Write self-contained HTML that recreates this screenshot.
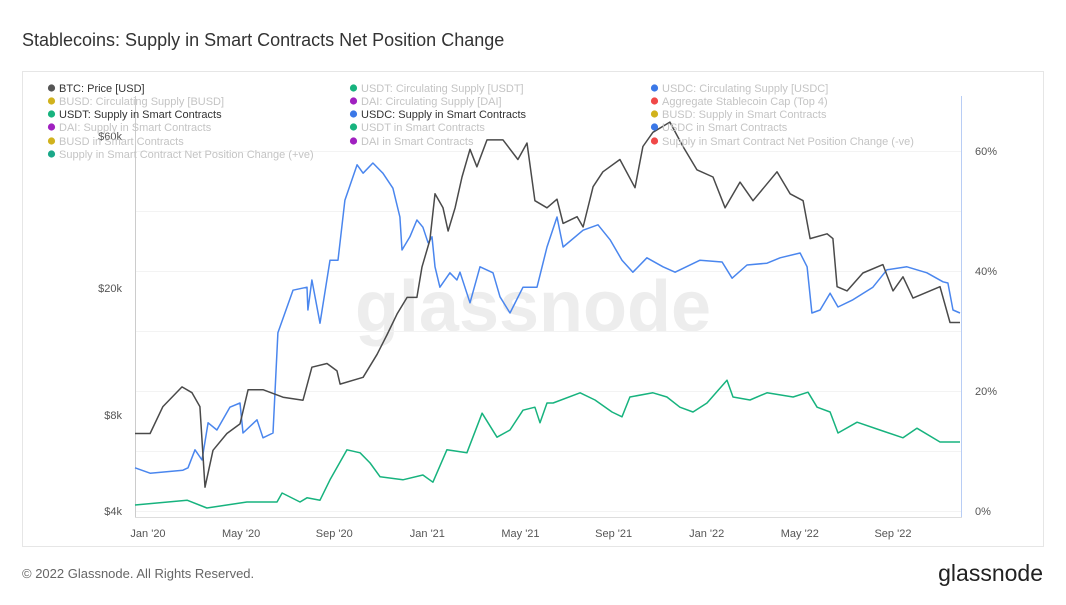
<!DOCTYPE html>
<html><head><meta charset="utf-8">
<style>
body{margin:0;background:#fff;width:1066px;height:600px;overflow:hidden;font-family:"Liberation Sans",sans-serif;}
</style></head>
<body>
<svg id="chart" width="1066" height="600" xmlns="http://www.w3.org/2000/svg">
<text x="22" y="46" font-size="18" fill="#333">Stablecoins: Supply in Smart Contracts Net Position Change</text>
<rect x="22.5" y="71.5" width="1021" height="475" fill="none" stroke="#e6e6e6"/>
<text x="533" y="331" font-size="72" font-weight="bold" fill="#ededed" text-anchor="middle">glassnode</text>
<g id="grid"></g>
<line x1="135.5" y1="96" x2="135.5" y2="517" stroke="#ccc"/>
<line x1="961.5" y1="96" x2="961.5" y2="517" stroke="#b8cdf5"/>
<line x1="135" y1="517.5" x2="962" y2="517.5" stroke="#ddd"/>
<g id="axes" font-size="11" fill="#555"></g>
<g id="series"></g>
<g id="legend" font-size="11"></g>
<text x="22" y="578" font-size="13" fill="#666">© 2022 Glassnode. All Rights Reserved.</text>
<text x="1043" y="581" font-size="23" fill="#222" text-anchor="end">glassnode</text>
</svg>
<script>
const xTickLabels = ["Jan '20","May '20","Sep '20","Jan '21","May '21","Sep '21","Jan '22","May '22","Sep '22"];
const xTickMonths = [0,4,8,12,16,20,24,28,32];
const leftTicks = [4000,8000,20000,60000];
const leftTickLabels = ["$4k","$8k","$20k","$60k"];
const rightTicks = [0,20,40,60];
const rightTickLabels = ["0%","20%","40%","60%"];

const btcMonths = [-0.56,0.09,0.64,1.46,1.89,2.23,2.45,2.79,3.39,3.95,4.3,4.94,5.8,6.66,7.04,7.69,8.12,8.25,9.24,9.84,10.27,10.7,11.13,11.55,11.77,12.11,12.33,12.67,12.89,13.19,13.49,13.83,14.13,14.56,15.25,15.89,16.28,16.62,17.14,17.57,17.83,18.43,18.69,19.12,19.54,20.27,20.92,21.26,21.69,22.42,22.98,23.58,24.27,24.79,25.43,25.99,27.02,27.58,28.14,28.44,29.17,29.42,29.6,30.03,30.71,31.57,32,32.43,32.86,34.02,34.45,34.88];
const btcPrice = [7000,7000,8500,9800,9400,8500,4750,6200,7000,7500,9600,9600,9100,8900,11300,11600,11000,10000,10500,12400,14300,16600,18700,18700,23300,28300,39500,35700,30200,35700,44600,54500,48000,58300,58300,50600,57000,37600,35700,38000,31900,33500,31100,41600,46300,50600,41300,55600,61600,66300,55600,47000,44600,35700,43000,37600,46300,39500,37600,28600,29600,28600,20200,19600,22300,23700,19600,21700,18600,20200,15600,15600];

const usdcMonths = [-0.56,0.09,1.5,1.72,2.02,2.32,2.58,2.96,3.52,3.95,4.08,4.68,4.94,5.37,5.58,6.23,6.83,6.87,7.04,7.39,7.82,8.16,8.46,8.98,9.24,9.66,10.09,10.52,10.82,10.91,11.25,11.55,11.81,12.03,12.2,12.33,12.54,12.97,13.27,13.4,13.83,14.26,14.82,15.12,15.55,16.11,16.71,17.14,17.57,17.83,18.69,19.33,19.85,20.36,20.83,21.43,22.12,22.64,23.71,24.66,25.09,25.73,26.59,27.15,28.01,28.31,28.52,28.87,29.3,29.64,30.28,31.14,31.74,32.6,33.46,34.15,34.36,34.58,34.88];
const usdcPct = [7.2,6.3,6.8,7.2,10.2,8.5,14.7,13.5,17.3,18,13,15.2,12.2,13,29.7,36.8,37.3,33.5,38.5,31.3,41.8,41.8,51.8,57.7,56.3,58,56.3,53.8,49,43.5,45.7,48.5,47.3,44.7,45.7,40.7,37.3,39.7,38.5,39.8,34.7,40.7,39.7,35.7,33,37.3,37.3,44,49,44,46.8,47.7,45.2,41.8,39.8,42.2,40.7,39.8,41.8,41.5,38.8,41,41.3,42.2,43,40.7,33,33.5,36.3,34,35.2,37.3,40.2,40.7,39.7,38.2,38,33.5,33];

const usdtMonths = [-0.56,1.68,2.53,4.25,5.54,5.76,6.53,6.83,7.39,7.82,8.55,9.11,9.54,9.97,10.95,11.81,12.24,12.84,13.7,14.35,14.99,15.55,16.11,16.62,16.84,17.14,17.4,18.56,19.2,19.93,20.36,20.7,21.69,22.29,22.85,23.41,24.01,24.87,25.13,25.86,26.59,27.71,28.35,28.74,29.3,29.64,30.46,31.44,32.43,33.03,34.02,34.88];
const usdtPct = [1,1.8,0.5,1.5,1.5,3,1.5,2.2,1.8,5.2,10.2,9.7,8,5.7,5.2,6,4.8,10.2,9.7,16.3,12.3,13.5,16.8,17.3,14.7,18,18,19.7,18.5,16.5,15.7,19,19.7,19,17.3,16.5,18,21.8,19,18.5,19.7,19,19.8,17.3,16.5,13,14.8,13.5,12.2,13.8,11.5,11.5];

const NS="http://www.w3.org/2000/svg";
function xs(m){return 148+m*23.28;}
function yl(p){return 511-96*Math.log2(p/4000);}
function yr(v){return 511-6*v;}
function mk(tag,attrs,parent){const e=document.createElementNS(NS,tag);for(const k in attrs)e.setAttribute(k,attrs[k]);parent.appendChild(e);return e;}

const grid=document.getElementById('grid');
for(let v=0;v<=65;v+=10){
  const g=mk('line',{x1:136,x2:961,y1:yr(v)+0.5,y2:yr(v)+0.5,stroke:'#f3f3f3'},grid);
  
  
}
const axes=document.getElementById('axes');
xTickMonths.forEach((m,i)=>{
  const t=mk('text',{x:xs(m),y:537,'text-anchor':'middle'},axes);t.textContent=xTickLabels[i];
  
  
});
leftTicks.forEach((p,i)=>{
  const t=mk('text',{x:122,y:yl(p)+4,'text-anchor':'end'},axes);t.textContent=leftTickLabels[i];
  
  
});
rightTicks.forEach((v,i)=>{
  const t=mk('text',{x:975,y:yr(v)+4},axes);t.textContent=rightTickLabels[i];
  
  
});
const series=document.getElementById('series');
function line(ms,vals,yf,color,name){
  const d=ms.map((m,i)=>(i?'L':'M')+xs(m).toFixed(1)+','+yf(vals[i]).toFixed(1)).join('');
  const p=mk('path',{d:d,fill:'none',stroke:color,'stroke-width':1.5,'stroke-linejoin':'round'},series);
  
  
}
line(usdtMonths,usdtPct,yr,'#17b37e','usdt-supply-line');
line(usdcMonths,usdcPct,yr,'#4a86ee','usdc-supply-line');
line(btcMonths,btcPrice,yl,'#4a4a4a','btc-price-line');

const legendItems=[
 ["BTC: Price [USD]","#555",1,48,88],["USDT: Circulating Supply [USDT]","#17b37e",0,350,88],["USDC: Circulating Supply [USDC]","#3b78e7",0,651,88],
 ["BUSD: Circulating Supply [BUSD]","#d1b21d",0,48,101],["DAI: Circulating Supply [DAI]","#a020c0",0,350,101],["Aggregate Stablecoin Cap (Top 4)","#f04848",0,651,101],
 ["USDT: Supply in Smart Contracts","#17b37e",1,48,114],["USDC: Supply in Smart Contracts","#3b78e7",1,350,114],["BUSD: Supply in Smart Contracts","#d1b21d",0,651,114],
 ["DAI: Supply in Smart Contracts","#a020c0",0,48,127],["USDT in Smart Contracts","#17b37e",0,350,127],["USDC in Smart Contracts","#3b78e7",0,651,127],
 ["BUSD in Smart Contracts","#d1b21d",0,48,141],["DAI in Smart Contracts","#a020c0",0,350,141],["Supply in Smart Contract Net Position Change (-ve)","#f04848",0,651,141],
 ["Supply in Smart Contract Net Position Change (+ve)","#1aa889",0,48,154]];
const legend=document.getElementById('legend');
legendItems.forEach(it=>{
  const g=mk('g',{},legend);
  
  
  mk('circle',{cx:it[3]+3.5,cy:it[4],r:3.6,fill:it[1]},g);
  const t=mk('text',{x:it[3]+11,y:it[4]+4,fill:it[2]?'#333':'#c4c4c4'},g);t.textContent=it[0];
});
</script>
</body></html>
